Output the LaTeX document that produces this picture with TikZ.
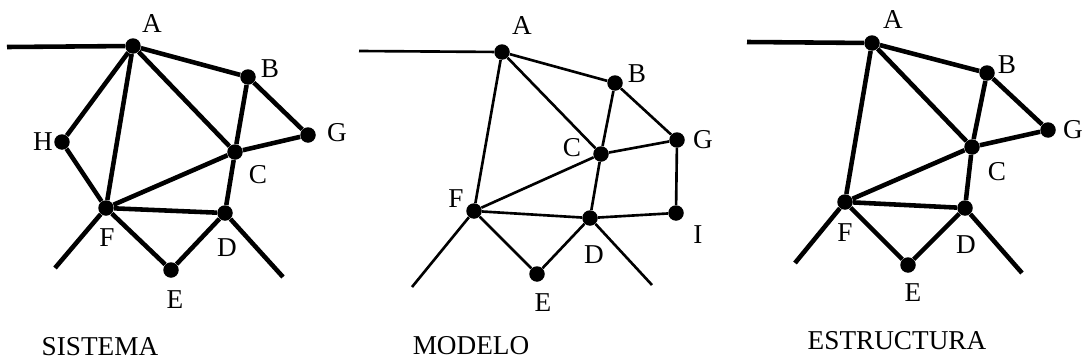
\documentclass[tikz,border=0pt]{standalone}
\usepackage{fontspec}
\setmainfont{Liberation Serif}

\begin{document}
\begin{tikzpicture}[x=0.02cm, y=-0.02cm,
    vertice/.style={circle, fill=black, inner sep=0pt, minimum size=0.31cm},
    etiq/.style={font=\fontsize{15.5}{18}\selectfont, inner sep=0pt},
    grueso/.style={line width=2.6pt},
    fino/.style={line width=1.5pt}]
    \useasboundingbox (0,0) rectangle (1082,362);
    % SISTEMA
    \node[vertice] (sA) at (133,46) {}; \node[vertice] (sB) at (248,77) {};
    \node[vertice] (sG) at (308,135) {}; \node[vertice] (sC) at (235,152) {};
    \node[vertice] (sH) at (62,142) {}; \node[vertice] (sF) at (106,208) {};
    \node[vertice] (sD) at (225,213) {}; \node[vertice] (sE) at (171,270) {};
    \coordinate (sIn) at (7,47); \coordinate (sFo) at (55,268);
    \coordinate (sDo) at (283,277);
    \draw[grueso] (sIn) -- (sA); \draw[grueso] (sA) -- (sB) -- (sG) -- (sC)
    -- (sA) -- (sH) -- (sF) -- (sA); \draw[grueso] (sB) -- (sC) -- (sD) --
    (sE) -- (sF) -- (sC); \draw[grueso] (sF) -- (sD); \draw[grueso] (sF)
    -- (sFo); \draw[grueso] (sD) -- (sDo);
    \node[etiq] (lsA) at (152,24) {A}; \node[etiq] (lsB) at (270,69) {B};
    \node[etiq] (lsG) at (337,133) {G}; \node[etiq] (lsC) at (258,175) {C};
    \node[etiq] (lsH) at (43,142) {H}; \node[etiq] (lsF) at (107,238) {F};
    \node[etiq] (lsD) at (227,248) {D}; \node[etiq] (lsE) at (175,300) {E};
    \node[etiq] (tS) at (100,347) {SISTEMA};
    % MODELO
    \node[vertice] (mA) at (502,52) {}; \node[vertice] (mB) at (615,83) {};
    \node[vertice] (mG) at (677,140) {}; \node[vertice] (mC) at (601,154) {};
    \node[vertice] (mF) at (474,211) {}; \node[vertice] (mD) at (590,218) {};
    \node[vertice] (mI) at (676,213) {}; \node[vertice] (mE) at (537,274) {};
    \coordinate (mIn) at (359,51); \coordinate (mFo) at (412,287);
    \coordinate (mDo) at (652,285);
    \draw[fino] (mIn) -- (mA); \draw[fino] (mA) -- (mB) -- (mG) -- (mC) --
    (mA) -- (mF) -- (mC); \draw[fino] (mB) -- (mC) -- (mD) -- (mE) -- (mF)
    -- (mD) -- (mI) -- (mG); \draw[fino] (mF) -- (mFo); \draw[fino] (mD)
    -- (mDo);
    \node[etiq] (lmA) at (522,26) {A}; \node[etiq] (lmB) at (637,74) {B};
    \node[etiq] (lmG) at (703,140) {G}; \node[etiq] (lmC) at (572,148) {C};
    \node[etiq] (lmF) at (456,199) {F}; \node[etiq] (lmD) at (594,255) {D};
    \node[etiq] (lmI) at (698,235) {I}; \node[etiq] (lmE) at (543,303) {E};
    \node[etiq] (tM) at (471,346) {MODELO};
    % ESTRUCTURA
    \node[vertice] (eA) at (872,43) {}; \node[vertice] (eB) at (987,73) {};
    \node[vertice] (eG) at (1048,130) {}; \node[vertice] (eC) at (972,147) {};
    \node[vertice] (eF) at (845,202) {}; \node[vertice] (eD) at (965,208) {};
    \node[vertice] (eE) at (908,265) {};
    \coordinate (eIn) at (747,42); \coordinate (eFo) at (795,263);
    \coordinate (eDo) at (1022,273);
    \draw[grueso] (eIn) -- (eA); \draw[grueso] (eA) -- (eB) -- (eG) --
    (eC) -- (eA) -- (eF) -- (eC); \draw[grueso] (eB) -- (eC) -- (eD) --
    (eE) -- (eF) -- (eD); \draw[grueso] (eF) -- (eFo); \draw[grueso] (eD)
    -- (eDo);
    \node[etiq] (leA) at (893,20) {A}; \node[etiq] (leB) at (1007,65) {B};
    \node[etiq] (leG) at (1073,130) {G}; \node[etiq] (leC) at (997,172) {C};
    \node[etiq] (leF) at (845,233) {F}; \node[etiq] (leD) at (966,245) {D};
    \node[etiq] (leE) at (913,293) {E};
    \node[etiq] (tE) at (897,341) {ESTRUCTURA};
\end{tikzpicture}
\end{document}
